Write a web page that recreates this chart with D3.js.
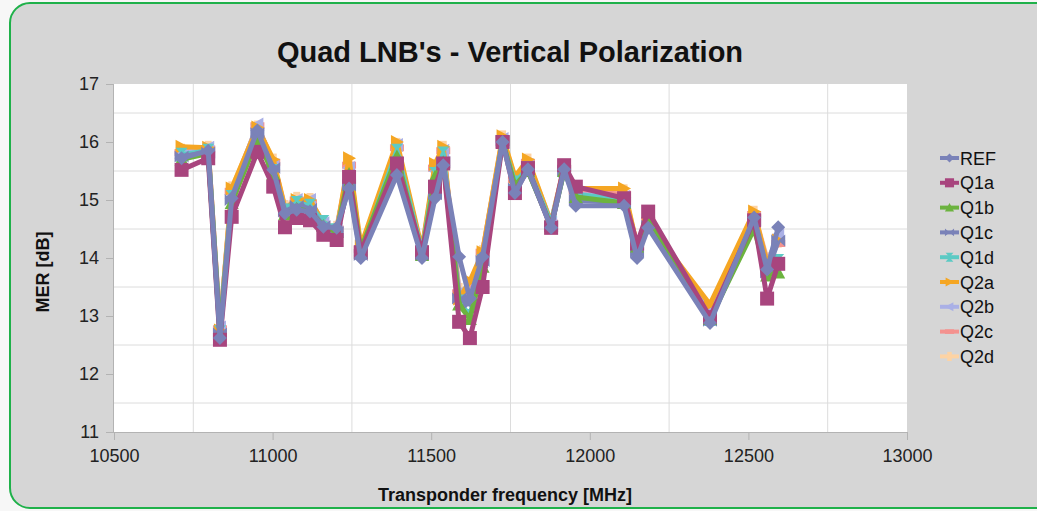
<!DOCTYPE html>
<html>
<head>
<meta charset="utf-8">
<style>
  body { margin: 0; background: #f7f7f7; font-family: "Liberation Sans", Arial, sans-serif; }
  .grid line { stroke: #dcdcdc; stroke-width: 1px; }
  .axis text { font-size: 18px; fill: #222; }
  .axis path, .axis line { stroke: #b3b3b3; }
</style>
</head>
<body>
<div id="chart"></div>
<script src="https://d3js.org/d3.v7.min.js"></script>
<script>
// transponder frequencies [MHz]
var freqs = [10713, 10797, 10834, 10871, 10952, 11002, 11039, 11076, 11118, 11160, 11202,
             11241, 11278, 11392, 11471, 11512, 11538, 11588, 11622, 11662, 11725, 11764,
             11805, 11878, 11919, 11956, 12108, 12149, 12184, 12379, 12518, 12559, 12594];

var seriesNames = ["REF", "Q1a", "Q1b", "Q1c", "Q1d", "Q2a", "Q2b", "Q2c", "Q2d"];

var REF = [15.72, 15.85, 12.62, 15.03, 16.2, 15.52, 14.77, 14.83, 14.8, 14.54, 14.52, 15.2, 14.0, 15.43, 14.0, 15.03, 15.6, 14.02, 13.3, 14.02, 16.0, 15.12, 15.53, 14.52, 15.53, 14.9, 14.9, 14.0, 14.52, 12.88, 14.7, 13.8, 14.53];
var Q1a = [15.52, 15.72, 12.59, 14.71, 15.83, 15.23, 14.53, 14.69, 14.65, 14.4, 14.31, 15.4, 14.1, 15.63, 14.1, 15.23, 15.63, 12.9, 12.62, 13.5, 16.0, 15.12, 15.55, 14.52, 15.6, 15.23, 15.03, 14.25, 14.8, 12.98, 14.65, 13.3, 13.9];
var Q1b = [15.7, 15.8, 12.7, 14.95, 16.05, 15.45, 14.75, 14.85, 14.8, 14.55, 14.45, 15.45, 14.15, 15.75, 14.05, 15.4, 15.65, 13.2, 12.95, 13.85, 16.0, 15.25, 15.5, 14.55, 15.5, 15.05, 14.95, 14.2, 14.7, 12.95, 14.5, 13.7, 13.75];
var Q1c = [15.75, 15.82, 12.7, 15.0, 16.15, 15.55, 14.8, 14.9, 14.85, 14.55, 14.45, 15.25, 14.05, 15.5, 14.05, 15.1, 15.65, 13.3, 13.2, 13.95, 16.02, 15.2, 15.5, 14.55, 15.5, 15.0, 14.95, 14.1, 14.55, 12.92, 14.65, 13.75, 14.3];
var Q1d = [15.78, 15.85, 12.72, 15.05, 16.1, 15.5, 14.82, 14.95, 14.9, 14.62, 14.48, 15.35, 14.1, 15.85, 14.1, 15.45, 15.8, 13.25, 13.0, 13.95, 16.0, 15.3, 15.55, 14.6, 15.5, 15.1, 15.0, 14.2, 14.65, 12.95, 14.55, 13.75, 13.95];
var Q2a = [15.92, 15.9, 12.75, 15.2, 16.25, 15.7, 14.85, 15.0, 15.0, 14.6, 14.45, 15.72, 14.2, 16.0, 14.15, 15.62, 15.92, 13.3, 13.6, 14.1, 16.1, 15.4, 15.7, 14.6, 15.55, 15.2, 15.2, 14.2, 14.6, 13.2, 14.8, 13.9, 14.3];
var Q2b = [15.8, 15.9, 12.8, 15.1, 16.3, 15.6, 14.85, 15.0, 15.0, 14.6, 14.5, 15.55, 14.15, 15.95, 14.1, 15.5, 15.85, 13.4, 13.3, 14.0, 16.05, 15.35, 15.6, 14.6, 15.55, 15.1, 15.05, 14.15, 14.6, 13.05, 14.7, 13.9, 14.4];
var Q2c = [15.82, 15.88, 12.78, 15.15, 16.28, 15.65, 14.85, 15.0, 14.95, 14.58, 14.5, 15.6, 14.15, 15.9, 14.1, 15.55, 15.85, 13.4, 13.35, 14.1, 16.05, 15.35, 15.65, 14.6, 15.55, 15.15, 15.1, 14.2, 14.65, 13.1, 14.75, 13.95, 14.25];
var Q2d = [15.85, 15.9, 12.8, 15.2, 16.25, 15.68, 14.88, 15.02, 15.0, 14.6, 14.52, 15.65, 14.18, 15.95, 14.12, 15.58, 15.9, 13.45, 13.4, 14.1, 16.08, 15.38, 15.68, 14.62, 15.58, 15.18, 15.15, 14.22, 14.62, 13.15, 14.78, 13.98, 14.3];

var seriesValues = [REF, Q1a, Q1b, Q1c, Q1d, Q2a, Q2b, Q2c, Q2d];
var colors = ["#7a82b8", "#a8457e", "#6cb33f", "#7a82b8", "#5ccac4", "#f5a623", "#aab0e6", "#f4928f", "#fdd3a4"];

var xTicks = [10500, 11000, 11500, 12000, 12500, 13000];
var yTicks = [11, 12, 13, 14, 15, 16, 17];

// marker shapes
var markers = [
  "M0,-7L7,0L0,7L-7,0Z",
  "M-7,-7H7V7H-7Z",
  "M0,-7L7,6H-7Z",
  "M-7,-6L0,0L-7,6ZM7,-6L0,0L7,6Z",
  "M-6,-7L0,0L6,-7ZM-6,7L0,0L6,7Z",
  "M-6,-7L7,0L-6,7Z",
  "M6,-7L-7,0L6,7Z",
  "M-7,-3.5H7V3.5H-7Z",
  "M-3.5,-7H3.5V7H-3.5Z"
];

var W = 1037, H = 511;
var svg = d3.select("#chart").append("svg").attr("width", W).attr("height", H);

svg.append("rect").attr("x", 10).attr("y", 3).attr("width", 1050).attr("height", 505)
  .attr("rx", 20).attr("fill", "#d6d6d6").attr("stroke", "#1fb14a").attr("stroke-width", 2);

var pLeft = 114, pRight = 907, pTop = 84, pBottom = 432;
var x = d3.scaleLinear().domain([10500, 13000]).range([pLeft, pRight]);
var y = d3.scaleLinear().domain([11, 17]).range([pBottom, pTop]);

svg.append("rect").attr("x", pLeft).attr("y", pTop).attr("width", pRight - pLeft).attr("height", pBottom - pTop)
  .attr("fill", "#fff");

// minor grid at half steps
var g = svg.append("g").attr("class", "grid");
g.selectAll(".vg").data(d3.range(10750, 13000, 500)).enter().append("line")
  .attr("x1", function(d) { return x(d); }).attr("x2", function(d) { return x(d); })
  .attr("y1", pTop).attr("y2", pBottom);
g.selectAll(".hg").data(d3.range(11.5, 17, 1)).enter().append("line")
  .attr("x1", pLeft).attr("x2", pRight)
  .attr("y1", function(d) { return y(d); }).attr("y2", function(d) { return y(d); });

var xAxis = svg.append("g").attr("class", "axis").attr("transform", "translate(0," + pBottom + ")")
  .call(d3.axisBottom(x).tickValues(xTicks).tickFormat(d3.format("d")).tickSize(8).tickPadding(9));
var yAxis = svg.append("g").attr("class", "axis").attr("transform", "translate(" + pLeft + ",0)")
  .call(d3.axisLeft(y).tickValues(yTicks).tickFormat(d3.format("d")).tickSize(8).tickPadding(7));
xAxis.select(".domain").attr("d", "M" + pLeft + ",0.5H" + pRight);
yAxis.select(".domain").attr("d", "M-0.5," + pTop + "V" + pBottom);

// series, drawn last-to-first so REF ends up on top
var line = d3.line().x(function(d, i) { return x(freqs[i]); }).y(function(d) { return y(d); });
var order = d3.range(seriesNames.length).reverse();
order.forEach(function(k) {
  var sg = svg.append("g");
  sg.append("path").attr("d", line(seriesValues[k])).attr("fill", "none")
    .attr("stroke", colors[k]).attr("stroke-width", 5).attr("stroke-linejoin", "round");
  sg.selectAll("path.m").data(seriesValues[k]).enter().append("path").attr("class", "m")
    .attr("d", markers[k]).attr("fill", colors[k])
    .attr("transform", function(d, i) { return "translate(" + x(freqs[i]) + "," + y(d) + ")"; });
});

// legend
var lg = svg.append("g");
seriesNames.forEach(function(name, i) {
  var ly = 158 + i * 24.8;
  lg.append("line").attr("x1", 940).attr("x2", 959).attr("y1", ly).attr("y2", ly)
    .attr("stroke", colors[i]).attr("stroke-width", 4);
  lg.append("path").attr("d", markers[i]).attr("fill", colors[i])
    .attr("transform", "translate(949.5," + ly + ") scale(0.65)");
  lg.append("text").attr("x", 960).attr("y", ly + 6.5).attr("font-size", 18).attr("fill", "#111").text(name);
});

svg.append("text").attr("x", 510).attr("y", 62).attr("text-anchor", "middle")
  .attr("font-size", 29).attr("font-weight", "bold").attr("fill", "#111")
  .text("Quad LNB's - Vertical Polarization");
svg.append("text").attr("x", 505).attr("y", 501).attr("text-anchor", "middle")
  .attr("font-size", 18).attr("font-weight", "bold").attr("fill", "#111")
  .text("Transponder frequency [MHz]");
svg.append("text").attr("transform", "translate(49,272) rotate(-90)").attr("text-anchor", "middle")
  .attr("font-size", 18).attr("font-weight", "bold").attr("fill", "#111")
  .text("MER [dB]");
</script>
</body>
</html>
